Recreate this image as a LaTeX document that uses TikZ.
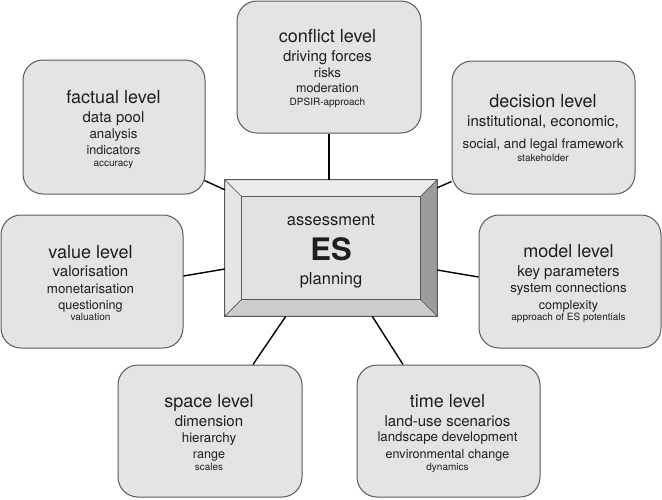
\documentclass[tikz,border=0pt]{standalone}
\usepackage{fontspec}
\setmainfont{TeX Gyre Heros}
\usetikzlibrary{calc}
\definecolor{boxfill}{HTML}{E4E4E6}
\definecolor{boxline}{HTML}{5A5A5A}
\definecolor{txt}{HTML}{1E1E1E}
\definecolor{bevtop}{HTML}{ECECEC}
\definecolor{bevleft}{HTML}{E6E6E6}
\definecolor{bevbot}{HTML}{CDCDCD}
\definecolor{bevright}{HTML}{9C9C9C}
\definecolor{face}{HTML}{E2E2E2}
\tikzset{
  lvl/.style={draw=boxline, fill=boxfill, rounded corners=20pt, line width=1pt, inner sep=0pt},
  conn/.style={draw=black, line width=1.4pt},
  bev/.style={draw=boxline, line width=0.7pt, line join=round},
  ta/.style={anchor=base, inner sep=0pt, text=txt, font=\fontsize{18}{20}\selectfont},
  tb/.style={anchor=base, inner sep=0pt, text=txt, font=\fontsize{15}{17}\selectfont},
  tc/.style={anchor=base, inner sep=0pt, text=txt, font=\fontsize{13.3}{15}\selectfont},
  td/.style={anchor=base, inner sep=0pt, text=txt, font=\fontsize{12.6}{14}\selectfont},
  te/.style={anchor=base, inner sep=0pt, text=txt, font=\fontsize{10}{12}\selectfont},
}
\begin{document}
\begin{tikzpicture}[x=1pt,y=-1pt]
\useasboundingbox (0,0) rectangle (662,499);

% level boxes
\node[lvl, minimum width=184pt, minimum height=132pt] (conflict) at (329,67) {};
\node[lvl, minimum width=182pt, minimum height=134pt] (factual) at (114,127) {};
\node[lvl, minimum width=183pt, minimum height=133pt] (decision) at (543.5,127.5) {};
\node[lvl, minimum width=182pt, minimum height=133pt] (value) at (92,281.5) {};
\node[lvl, minimum width=182pt, minimum height=133pt] (model) at (570,281.5) {};
\node[lvl, minimum width=184pt, minimum height=132pt] (space) at (210,431) {};
\node[lvl, minimum width=183pt, minimum height=132pt] (time) at (448.5,431) {};

% central bevelled box
\node[inner sep=0pt, minimum width=212pt, minimum height=136pt] (es) at (331,248) {};
\coordinate (iNW) at ([shift={(17,17)}]es.north west);
\coordinate (iNE) at ([shift={(-17,17)}]es.north east);
\coordinate (iSW) at ([shift={(17,-17)}]es.south west);
\coordinate (iSE) at ([shift={(-17,-17)}]es.south east);
\filldraw[bev, fill=bevtop] (es.north west) -- (es.north east) -- (iNE) -- (iNW) -- cycle;
\filldraw[bev, fill=bevleft] (es.north west) -- (iNW) -- (iSW) -- (es.south west) -- cycle;
\filldraw[bev, fill=bevbot] (es.south west) -- (iSW) -- (iSE) -- (es.south east) -- cycle;
\filldraw[bev, fill=bevright] (es.north east) -- (es.south east) -- (iSE) -- (iNE) -- cycle;
\filldraw[bev, fill=face] (iNW) -- (iNE) -- (iSE) -- (iSW) -- cycle;
\draw[draw=boxline, line width=1pt] (es.north west) rectangle (es.south east);

% connectors
\draw[conn] (conflict.south) -- (conflict.south |- es.north);
\draw[conn] ([shift={(-1,-14)}]factual.south east) -- ([shift={(0,10)}]es.north west);
\draw[conn] ([shift={(0,-13)}]decision.south west) -- ([shift={(0,8)}]es.north east);
\draw[conn] ([shift={(0,-5.5)}]value.east) -- ([shift={(0,21)}]es.west);
\draw[conn] ([shift={(0,-4.5)}]model.west) -- ([shift={(0,22)}]es.east);
\draw[conn] ([shift={(43,0)}]space.north) -- ([shift={(61,0)}]es.south west);
\draw[conn] ([shift={(-45.5,0)}]time.north) -- ([shift={(-65,0)}]es.south east);

% central text
\node[anchor=base, inner sep=0pt, text=txt, font=\fontsize{16.5}{18}\selectfont] (es1) at (331,225.7) {assessment};
\node[anchor=base, inner sep=0pt, text=txt, font=\fontsize{31}{33}\selectfont\bfseries] (es2) at (331,260) {ES};
\node[anchor=base, inner sep=0pt, text=txt, font=\fontsize{16.5}{18}\selectfont] (es3) at (331,284.3) {planning};

% conflict
\node[ta] (c1) at (327.5,42.7) {conflict level};
\node[tb] (c2) at (327.5,61) {driving forces};
\node[tc] (c3) at (327.5,77.3) {risks};
\node[td] (c4) at (327.5,92.7) {moderation};
\node[te] (c5) at (327.5,105.3) {DPSIR-approach};

% factual
\node[ta] (f1) at (113.5,103.3) {factual level};
\node[tb] (f2) at (113.5,122.7) {data pool};
\node[tc] (f3) at (113.5,138.3) {analysis};
\node[td] (f4) at (113.5,154) {indicators};
\node[te] (f5) at (113.5,166.7) {accuracy};

% decision
\node[ta] (d1) at (543,107.3) {decision level};
\node[tb] (d2) at (543,126) {institutional, economic,};
\node[tc] (d3) at (543,148.3) {social, and legal framework};
\node[te] (d4) at (543,161.7) {stakeholder};

% value
\node[ta] (v1) at (90.5,258.3) {value level};
\node[tb] (v2) at (90.5,276.7) {valorisation};
\node[tc] (v3) at (90.5,293.3) {monetarisation};
\node[td] (v4) at (90.5,309.3) {questioning};
\node[te] (v5) at (90.5,320.7) {valuation};

% model
\node[ta] (m1) at (568.5,257.3) {model level};
\node[tb] (m2) at (568.5,276) {key parameters};
\node[tc] (m3) at (568.5,292.7) {system connections};
\node[td] (m4) at (568.5,309) {complexity};
\node[te] (m5) at (568.5,320.7) {approach of ES potentials};

% space
\node[ta] (s1) at (209,407.3) {space level};
\node[tb] (s2) at (209,426.7) {dimension};
\node[tc] (s3) at (209,442.7) {hierarchy};
\node[td] (s4) at (209,458.3) {range};
\node[te] (s5) at (209,470.7) {scales};

% time
\node[ta] (t1) at (447.5,407.3) {time level};
\node[tb] (t2) at (447.5,426) {land-use scenarios};
\node[tc] (t3) at (447.5,441.7) {landscape development};
\node[td] (t4) at (447.5,458.3) {environmental change};
\node[te] (t5) at (447.5,470.7) {dynamics};
\end{tikzpicture}
\end{document}
